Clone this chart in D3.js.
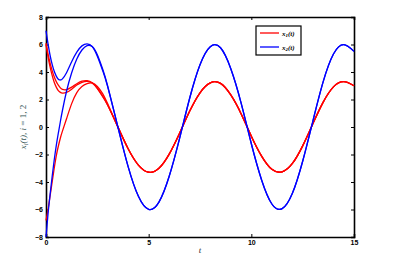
<!DOCTYPE html>
<html>
<head>
<meta charset="utf-8">
<script src="https://cdn.jsdelivr.net/npm/d3@7"></script>
<style>
  body { margin: 0; background: #fff; }
  .axis text { font-family: "Liberation Sans", Arial, sans-serif; font-size: 7px; font-weight: bold; fill: #000; }
  .axis path, .axis line { stroke: #000; }
</style>
</head>
<body>
<div id="chart"></div>
<script>
// time grids
const tEarly = [0, 0.1, 0.2, 0.3, 0.4, 0.5, 0.6, 0.7, 0.8, 1.0, 1.25, 1.5, 1.75, 2.0, 2.25, 2.5, 2.75, 3.0]
const tLate = [3.5, 4, 4.5, 5, 5.5, 6, 6.5, 7, 7.5, 8, 8.5, 9, 9.5, 10, 10.5, 11, 11.5, 12, 12.5, 13, 13.5, 14, 14.5, 15]

// x1 transients (red)
const x1EarlyA = [6.1, 5.3, 4.65, 4.1, 3.65, 3.3, 3.05, 2.85, 2.74, 2.72, 2.9, 3.15, 3.33, 3.37, 3.22, 2.82, 2.25, 1.6]
const x1EarlyB = [6.0, 5.1, 4.35, 3.75, 3.25, 2.9, 2.65, 2.52, 2.47, 2.52, 2.75, 3.05, 3.25, 3.32, 3.2, 2.8, 2.25, 1.6]
const x1EarlyC = [-6.8, -6.0, -5.0, -4.0, -3.0, -2.1, -1.4, -0.8, -0.3, 0.6, 1.7, 2.5, 2.95, 3.15, 3.2, 2.95, 2.45, 1.7]
// x2 transients (blue)
const x2EarlyA = [7.0, 6.05, 5.2, 4.55, 4.05, 3.7, 3.48, 3.42, 3.5, 3.95, 4.75, 5.45, 5.9, 6.05, 5.85, 5.15, 4.15, 2.95]
const x2EarlyB = [-8.0, -6.3, -4.9, -3.6, -2.4, -1.35, -0.45, 0.4, 1.2, 2.6, 3.95, 4.95, 5.6, 5.92, 5.85, 5.25, 4.25, 3.0]

// periodic part, shared by all trajectories
const x1Late = [0.01, -1.58, -2.77, -3.29, -3.0, -1.97, -0.47, 1.16, 2.49, 3.21, 3.17, 2.33, 0.97, -0.67, -2.12, -3.08, -3.26, -2.65, -1.37, 0.25, 1.81, 2.92, 3.3, 3.0]
const x2Late = [0.01, -2.88, -5.04, -5.99, -5.46, -3.58, -0.86, 2.11, 4.53, 5.84, 5.76, 4.24, 1.76, -1.22, -3.85, -5.6, -5.94, -4.82, -2.49, 0.45, 3.3, 5.31, 5.99, 5.5]

const xTicks = [0, 5, 10, 15]
const yTicks = [-8, -6, -4, -2, 0, 2, 4, 6, 8]
const legendLabels = ['1', '2']
const colors = ['#ff0000', '#0000ff']

// canvas
const W = 403, H = 261
const m = { left: 46, right: 49, top: 17, bottom: 24 }
const w = W - m.left - m.right
const h = H - m.top - m.bottom

const svg = d3.select('#chart').append('svg')
  .attr('width', W).attr('height', H)

const g = svg.append('g').attr('transform', `translate(${m.left},${m.top})`)

const xScale = d3.scaleLinear().domain([0, 15]).range([0, w])
const yScale = d3.scaleLinear().domain([-8, 8]).range([h, 0])

// axes, MATLAB box style with inward ticks
g.append('g').attr('class', 'axis')
  .attr('transform', `translate(0,${h})`)
  .call(d3.axisBottom(xScale).tickValues(xTicks).tickSize(-3).tickPadding(3))
g.append('g').attr('class', 'axis')
  .call(d3.axisTop(xScale).tickValues(xTicks).tickSize(-3).tickFormat(''))
g.append('g').attr('class', 'axis')
  .call(d3.axisLeft(yScale).tickValues(yTicks).tickSize(-3).tickPadding(3).tickFormat(d3.format('d')))
g.append('g').attr('class', 'axis')
  .attr('transform', `translate(${w},0)`)
  .call(d3.axisRight(yScale).tickValues(yTicks).tickSize(-3).tickFormat(''))
g.selectAll('.axis path').attr('stroke-width', 1.6)
g.selectAll('.axis .tick line').attr('stroke-width', 1)

// trajectories
const join = (early, late) =>
  tEarly.map((t, i) => [t, early[i]]).concat(tLate.map((t, i) => [t, late[i]]))

const series = [
  { pts: join(x1EarlyA, x1Late), c: colors[0] },
  { pts: join(x1EarlyB, x1Late), c: colors[0] },
  { pts: join(x1EarlyC, x1Late), c: colors[0] },
  { pts: join(x2EarlyA, x2Late), c: colors[1] },
  { pts: join(x2EarlyB, x2Late), c: colors[1] }
]

const line = d3.line()
  .x(d => xScale(d[0]))
  .y(d => yScale(d[1]))
  .curve(d3.curveNatural)

g.selectAll('path.traj')
  .data(series).enter()
  .append('path')
  .attr('class', 'traj')
  .attr('d', d => line(d.pts))
  .attr('fill', 'none')
  .attr('stroke', d => d.c)
  .attr('stroke-width', 1.3)

// legend
const lg = svg.append('g').attr('transform', 'translate(256,26)')
lg.append('rect').attr('width', 45).attr('height', 29)
  .attr('fill', '#fff').attr('stroke', '#000').attr('stroke-width', 1.2)
legendLabels.forEach((lab, i) => {
  const y = 7 + i * 14
  lg.append('line').attr('x1', 4).attr('x2', 23).attr('y1', y).attr('y2', y)
    .style('stroke', colors[i]).attr('stroke-width', 1.3)
  const tx = lg.append('text').attr('x', 26).attr('y', y + 2.5)
    .attr('font-family', '"Liberation Serif", serif')
    .attr('font-style', 'italic').attr('font-weight', 'bold')
    .attr('font-size', 7)
  tx.append('tspan').text('x')
  tx.append('tspan').attr('font-size', 5).attr('dy', 1.5).text(lab)
  tx.append('tspan').attr('dy', -1.5).text('(t)')
})

// axis titles
svg.append('text')
  .attr('x', m.left + xScale(7.5)).attr('y', 253)
  .attr('text-anchor', 'middle')
  .attr('font-family', '"Liberation Serif", serif')
  .attr('font-style', 'italic').attr('font-size', 9)
  .attr('fill', '#333')
  .text('t')

const yl = svg.append('text')
  .attr('transform', `translate(26,${m.top + h / 2}) rotate(-90)`)
  .attr('text-anchor', 'middle')
  .attr('font-family', '"Liberation Serif", serif')
  .attr('font-style', 'italic').attr('font-size', 9)
  .attr('fill', '#2f4f4f')
yl.append('tspan').text('x')
yl.append('tspan').attr('font-size', 6).attr('dy', 2).text('i')
yl.append('tspan').attr('dy', -2).text('(t), ')
yl.append('tspan').text('i')
yl.append('tspan').attr('font-style', 'normal').text(' = 1, 2')
</script>
</body>
</html>
